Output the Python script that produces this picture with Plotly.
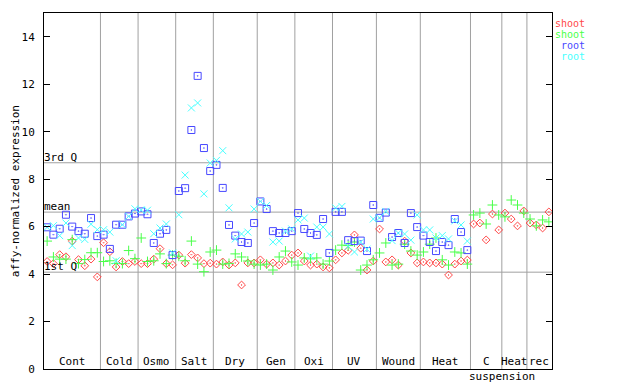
import plotly.graph_objects as go

# ---- data ----
group_labels = ["Cont", "Cold", "Osmo", "Salt", "Dry", "Gen", "Oxi", "UV",
                "Wound", "Heat", "C\nsuspension", "Heat", "rec"]
group_sizes = [9, 6, 6, 6, 7, 6, 6, 7, 7, 8, 5, 4, 4]

shoot_red = [4.53, 4.44, 4.82, 4.73, 5.39, 4.61, 4.35, 4.63, 3.88,
             5.32, 4.94, 4.30, 4.53, 4.44, 4.53,
             4.44, 4.44, 4.63, 5.07, 4.44, 4.39,
             4.80, 4.46, 4.82, 4.68, 4.44, 4.46,
             4.42, 4.51, 4.38, 4.47, 3.54, 4.47, 4.47,
             4.60, 4.42, 4.47, 4.38, 4.55, 4.80,
             4.89, 4.55, 4.38, 4.42, 4.30, 4.26,
             4.60, 4.89, 5.00, 5.65, 5.09, 4.17, 4.55,
             5.90, 4.51, 4.60, 4.38, 5.39, 4.89, 4.47,
             4.51, 4.47, 4.47, 4.42, 3.96, 4.42, 4.55, 4.59,
             6.11, 6.15, 5.44, 6.53, 5.86,
             6.57, 6.32, 6.03, 6.66,
             6.15, 6.07, 5.94, 6.62]

shoot_green = [5.39, 4.72, 4.63, 4.63, 5.45, 4.44, 4.61, 4.90, 4.90,
               4.53, 4.56, 4.45, 4.44, 4.99, 4.65,
               5.52, 4.53, 4.56, 4.85, 4.44, 4.80,
               4.75, 4.56, 5.39, 4.42, 4.10, 4.93,
               5.01, 4.42, 4.45, 4.85, 4.72, 4.55, 4.42,
               4.38, 4.42, 4.17, 4.72, 4.97, 4.51,
               4.38, 4.68, 4.64, 4.68, 4.42, 4.55,
               5.01, 5.22, 5.20, 5.35, 4.17, 4.38, 4.60,
               4.89, 5.31, 4.38, 4.42, 5.26, 4.97, 4.80,
               4.93, 5.26, 5.52, 4.60, 4.38, 4.93, 4.89, 4.42,
               6.49, 6.57, 6.11, 6.91, 6.49,
               6.41, 7.12, 6.91, 6.57,
               6.32, 6.03, 6.28, 6.20]

root_blue = [5.97, 5.66, 5.91, 6.50, 6.00, 5.81, 5.70, 6.36, 5.60,
             5.66, 5.06, 6.08, 6.08, 6.43, 6.55,
             6.64, 6.52, 5.31, 5.70, 5.86, 4.80,
             7.50, 7.62, 10.07, 12.35, 9.31, 8.34,
             8.60, 7.63, 6.07, 5.62, 5.35, 5.31, 6.15,
             7.06, 6.74, 5.81, 5.73, 5.73, 5.81,
             6.57, 5.90, 5.73, 5.65, 6.32, 4.89,
             6.62, 6.62, 5.43, 5.39, 5.41, 4.97, 6.91,
             6.37, 6.59, 5.56, 5.73, 5.31, 6.57, 5.98,
             5.62, 5.35, 4.97, 5.35, 5.22, 6.32, 5.77, 5.01,
             None, None, None, None, None,
             None, None, None, None,
             None, None, None, None]

root_cyan = [5.97, 6.04, 5.62, 6.15, 5.20, 5.52, 5.46, 6.10, 5.87,
             5.87, 5.77, 4.56, 6.08, 6.43, 6.75,
             6.70, 6.69, 5.70, 5.94, 6.11, 4.89,
             6.50, 8.17, 11.00, 11.21, 7.38, 8.68,
             8.79, 9.20, 6.79, 5.48, 5.69, 5.77, 6.74,
             7.06, 6.89, 5.35, 5.39, 5.81, 5.90,
             6.28, 6.36, 4.76, 5.98, 5.98, 5.69,
             6.79, 6.85, 5.17, 4.93, 5.35, 5.05, 6.32,
             6.37, 6.64, 5.41, 5.73, 5.69, 5.43, 6.49,
             5.86, 5.86, 5.52, 5.62, 5.48, 6.24, 6.07, 5.39,
             None, None, None, None, None,
             None, None, None, None,
             None, None, None, None]

quartile_labels = ["3rd Q", "mean", "1st Q"]
quartile_values = [8.69, 6.61, 4.08]

y_ticks = [0, 2, 4, 6, 8, 10, 12, 14]

series_names = ["shoot", "shoot", "root", "root"]
series_colors = ["#ff4848", "#48ff48", "#4848ff", "#48ffff"]
series_symbols = ["diamond-open-dot", "cross-thin-open", "square-open-dot", "x-thin-open"]
series_sizes = [6, 7, 7, 7]

# ---- figure ----
FONT = "DejaVu Sans Mono"
n = sum(group_sizes)
x = list(range(n))
fig = go.Figure()

for vals, col, sym, sz in zip([shoot_red, shoot_green, root_blue, root_cyan],
                              series_colors, series_symbols, series_sizes):
    fig.add_trace(go.Scatter(
        x=x, y=vals, mode="markers", showlegend=False,
        marker=dict(symbol=sym, size=sz, color=col, line=dict(color=col, width=1)),
    ))

shapes = []
annotations = []
start = 0
for lab, size in zip(group_labels, group_sizes):
    end = start + size
    center = (start + end - 1) / 2
    parts = lab.split("\n")
    annotations.append(dict(x=center, y=0, xref="x", yref="y", text=parts[0],
                            showarrow=False, xanchor="center", yanchor="bottom",
                            yshift=-1, font=dict(family=FONT, size=11, color="black")))
    if len(parts) > 1:
        annotations.append(dict(x=end - 0.5, y=0, xref="x", yref="paper", text=parts[1],
                                showarrow=False, xanchor="center", yanchor="top",
                                yshift=1, font=dict(family=FONT, size=11, color="black")))
    if end < n:
        shapes.append(dict(type="line", xref="x", yref="y", x0=end - 0.5, x1=end - 0.5,
                           y0=0, y1=15, line=dict(color="#a0a0a0", width=1), layer="below"))
    start = end

for lab, val in zip(quartile_labels, quartile_values):
    shapes.append(dict(type="line", xref="paper", yref="y", x0=0, x1=1, y0=val, y1=val,
                       line=dict(color="#a0a0a0", width=1), layer="below"))
    annotations.append(dict(x=0, y=val, xref="paper", yref="y", text=lab, showarrow=False,
                            xanchor="left", yanchor="bottom", xshift=-2, yshift=-3,
                            font=dict(family=FONT, size=11, color="black")))

# y axis title
annotations.append(dict(x=-0.0567, y=0.5, xref="paper", yref="paper",
                        text="affy-normalized expression", textangle=-90, showarrow=False,
                        xanchor="center", yanchor="middle", borderpad=0,
                        font=dict(family=FONT, size=11, color="black")))

# legend (text left of symbol), drawn on an overlay axis spanning the plot area
leg_y = [0.971, 0.940, 0.908, 0.877]
for name, col, sym, sz, ly in zip(series_names, series_colors, series_symbols,
                                  series_sizes, leg_y):
    fig.add_trace(go.Scatter(
        x=[1.112], y=[ly], xaxis="x2", yaxis="y2", mode="markers", showlegend=False,
        cliponaxis=False,
        marker=dict(symbol=sym, size=sz, color=col, line=dict(color=col, width=1)),
    ))
    annotations.append(dict(x=1.067, y=ly, xref="paper", yref="paper", text=name,
                            showarrow=False, xanchor="right", yanchor="middle", borderpad=0,
                            font=dict(family=FONT, size=10, color=col)))

# page body has an 8px margin, so the figure is made 8px smaller and margins shifted
fig.update_layout(
    width=632, height=376,
    margin=dict(l=36, r=88, t=5, b=15, pad=0),
    paper_bgcolor="white", plot_bgcolor="white",
    showlegend=False,
    font=dict(family=FONT, size=11, color="black"),
    xaxis=dict(range=[-0.5, n - 0.5], showgrid=False, zeroline=False, showticklabels=False,
               ticks="", showline=True, linecolor="black", linewidth=1, mirror=True),
    yaxis=dict(range=[0, 15], tickvals=y_ticks, ticks="inside", ticklen=6, tickcolor="black",
               tickwidth=1, showgrid=False, zeroline=False, showline=True, linecolor="black",
               linewidth=1, mirror="ticks", ticklabelstandoff=6,
               tickfont=dict(family=FONT, size=11, color="black")),
    xaxis2=dict(overlaying="x", range=[0, 1], visible=False),
    yaxis2=dict(overlaying="y", range=[0, 1], visible=False),
    shapes=shapes, annotations=annotations,
)

fig.write_html("out.html")
